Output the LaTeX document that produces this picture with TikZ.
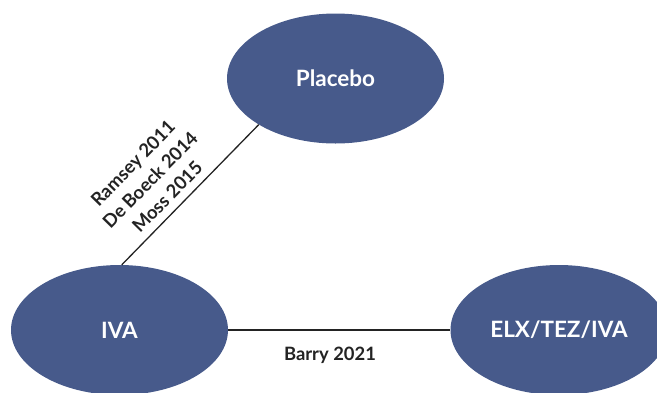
\documentclass[tikz,border=0pt]{standalone}
\usepackage{fontspec}
\setmainfont{Lato}
\usetikzlibrary{shapes.geometric}
\definecolor{bubblefill}{RGB}{71,90,139}
\definecolor{ink}{RGB}{35,35,35}
\tikzset{
  bubble/.style={ellipse, fill=bubblefill, draw=none, inner sep=0pt,
    minimum width=217pt, minimum height=130pt, text=white,
    font=\fontsize{22.5}{26}\selectfont\bfseries},
  link/.style={draw=ink, line width=1.3pt},
  cite/.style={text=ink, font=\fontsize{18.4}{24}\selectfont\bfseries, align=center},
}
\begin{document}
\begin{tikzpicture}[x=1pt,y=-1pt]
\useasboundingbox (0,0) rectangle (657,392);
% treatments
\node[bubble] (P) at (335.5,78.5) {Placebo};
\node[bubble] (IVA) at (119.5,330) {IVA};
\node[bubble] (ELX) at (559,330) {ELX/TEZ/IVA};
% comparisons
\draw[link] (P.211.6) -- (IVA.88);
\draw[link] (IVA.east) -- (ELX.west);
% trial labels
\node[cite, rotate=45.6] (lab1) at (150,180) {Ramsey 2011\\De Boeck 2014\\Moss 2015};
\node[cite] (lab2) at (330,355) {Barry 2021};
\end{tikzpicture}
\end{document}
